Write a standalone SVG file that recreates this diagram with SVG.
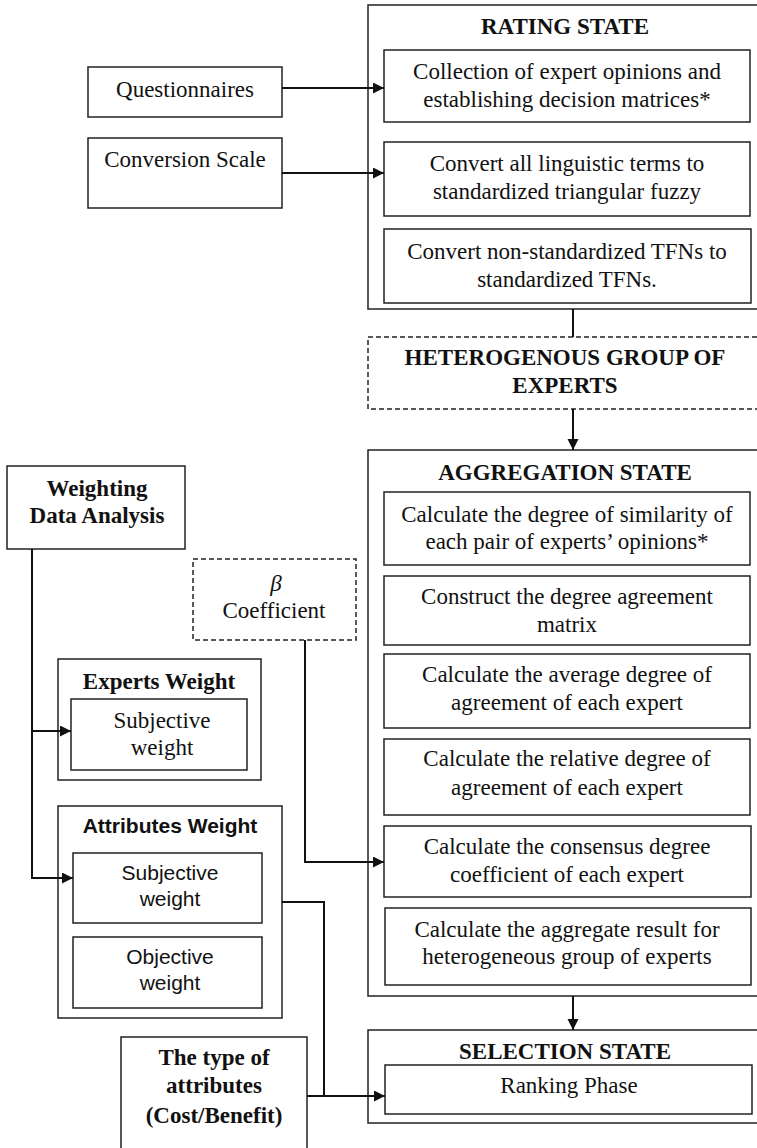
<svg xmlns="http://www.w3.org/2000/svg" width="757" height="1148" viewBox="0 0 757 1148">
<style>
.bx{fill:#fff;stroke:#222;stroke-width:1.5}
.ds{fill:#fff;stroke:#222;stroke-width:1.5;stroke-dasharray:5,3}
.t{font-family:"Liberation Serif","Times New Roman",serif;font-size:23px;fill:#111;text-anchor:middle}
.b{font-weight:bold}
.s{font-family:"Liberation Sans",Arial,sans-serif;font-size:21px;fill:#111;text-anchor:middle}
.c{fill:none;stroke:#111;stroke-width:2}
</style>
<defs>
<marker id="ah" markerUnits="userSpaceOnUse" markerWidth="12" markerHeight="12" refX="11" refY="5.5" orient="auto">
<path d="M0,0 L11,5.5 L0,11 z" fill="#111"/>
</marker>
</defs>
<rect width="757" height="1148" fill="#fff"/>

<g id="rating-state">
<rect class="bx" x="368" y="5" width="400" height="304"/>
<text class="t b" x="565" y="34">RATING STATE</text>
</g>
<g id="collection">
<rect class="bx" x="384" y="50" width="366" height="72"/>
<text class="t" x="567" y="79">Collection of expert opinions and</text>
<text class="t" x="567" y="107">establishing decision matrices*</text>
</g>
<g id="convert-linguistic">
<rect class="bx" x="384" y="142" width="366" height="74"/>
<text class="t" x="567" y="171">Convert all linguistic terms to</text>
<text class="t" x="567" y="199">standardized triangular fuzzy</text>
</g>
<g id="convert-tfn">
<rect class="bx" x="384" y="229" width="367" height="74"/>
<text class="t" x="567" y="259">Convert non-standardized TFNs to</text>
<text class="t" x="567" y="287">standardized TFNs.</text>
</g>
<g id="questionnaires">
<rect class="bx" x="88" y="67" width="194" height="50"/>
<text class="t" x="185" y="97">Questionnaires</text>
</g>
<g id="conversion-scale">
<rect class="bx" x="88" y="138" width="194" height="70"/>
<text class="t" x="185" y="167">Conversion Scale</text>
</g>
<g id="heterogenous">
<rect class="ds" x="368" y="337" width="400" height="72"/>
<text class="t b" x="565" y="365">HETEROGENOUS GROUP OF</text>
<text class="t b" x="565" y="393">EXPERTS</text>
</g>

<g id="aggregation-state">
<rect class="bx" x="368" y="450" width="400" height="546"/>
<text class="t b" x="565" y="480">AGGREGATION STATE</text>
</g>
<g id="similarity">
<rect class="bx" x="384" y="492" width="366" height="73"/>
<text class="t" x="567" y="522">Calculate the degree of similarity of</text>
<text class="t" x="567" y="549">each pair of experts’ opinions*</text>
</g>
<g id="agreement-matrix">
<rect class="bx" x="384" y="576" width="366" height="69"/>
<text class="t" x="567" y="604">Construct the degree agreement</text>
<text class="t" x="567" y="632">matrix</text>
</g>
<g id="average-agreement">
<rect class="bx" x="384" y="654" width="366" height="74"/>
<text class="t" x="567" y="682">Calculate the average degree of</text>
<text class="t" x="567" y="710">agreement of each expert</text>
</g>
<g id="relative-agreement">
<rect class="bx" x="384" y="739" width="366" height="76"/>
<text class="t" x="567" y="766">Calculate the relative degree of</text>
<text class="t" x="567" y="795">agreement of each expert</text>
</g>
<g id="consensus">
<rect class="bx" x="384" y="826" width="367" height="71"/>
<text class="t" x="567" y="854">Calculate the consensus degree</text>
<text class="t" x="567" y="882">coefficient of each expert</text>
</g>
<g id="aggregate-result">
<rect class="bx" x="385" y="908" width="366" height="77"/>
<text class="t" x="567" y="937">Calculate the aggregate result for</text>
<text class="t" x="567" y="964">heterogeneous group of experts</text>
</g>

<g id="weighting">
<rect class="bx" x="7" y="466" width="178" height="83"/>
<text class="t b" x="97" y="496">Weighting</text>
<text class="t b" x="97" y="523">Data Analysis</text>
</g>
<g id="beta">
<rect class="ds" x="193" y="559" width="163" height="81"/>
<text class="t" x="276" y="591" font-style="italic">β</text>
<text class="t" x="274" y="618">Coefficient</text>
</g>
<g id="experts-weight">
<rect class="bx" x="58" y="659" width="203" height="121"/>
<text class="t b" x="159" y="689">Experts Weight</text>
</g>
<g id="experts-subjective">
<rect class="bx" x="71" y="699" width="176" height="71"/>
<text class="t" x="162" y="728">Subjective</text>
<text class="t" x="162" y="755">weight</text>
</g>
<g id="attributes-weight">
<rect class="bx" x="58" y="806" width="224" height="212"/>
<text class="s b" x="170" y="833">Attributes Weight</text>
</g>
<g id="attr-subjective">
<rect class="bx" x="73" y="853" width="189" height="70"/>
<text class="s" x="170" y="880">Subjective</text>
<text class="s" x="170" y="906">weight</text>
</g>
<g id="attr-objective">
<rect class="bx" x="73" y="937" width="189" height="71"/>
<text class="s" x="170" y="964">Objective</text>
<text class="s" x="170" y="990">weight</text>
</g>
<g id="attribute-type">
<rect class="bx" x="121" y="1037" width="186" height="130"/>
<text class="t b" x="214" y="1065">The type of</text>
<text class="t b" x="214" y="1093">attributes</text>
<text class="t b" x="214" y="1123">(Cost/Benefit)</text>
</g>
<g id="selection-state">
<rect class="bx" x="368" y="1030" width="400" height="93"/>
<text class="t b" x="565" y="1059">SELECTION STATE</text>
</g>
<g id="ranking">
<rect class="bx" x="385" y="1065" width="367" height="49"/>
<text class="t" x="569" y="1093">Ranking Phase</text>
</g>

<g id="connectors">
<path class="c" d="M282,88 H384" marker-end="url(#ah)"/>
<path class="c" d="M282,173 H384" marker-end="url(#ah)"/>
<path class="c" d="M573,309 V337"/>
<path class="c" d="M573,409 V450" marker-end="url(#ah)"/>
<path class="c" d="M32,549 V731 H71" marker-end="url(#ah)"/>
<path class="c" d="M32,731 V878 H73" marker-end="url(#ah)"/>
<path class="c" d="M305,640 V862 H384" marker-end="url(#ah)"/>
<path class="c" d="M282,902 H324 V1096"/>
<path class="c" d="M307,1096 H385" marker-end="url(#ah)"/>
<path class="c" d="M573,996 V1030" marker-end="url(#ah)"/>
</g>
</svg>
